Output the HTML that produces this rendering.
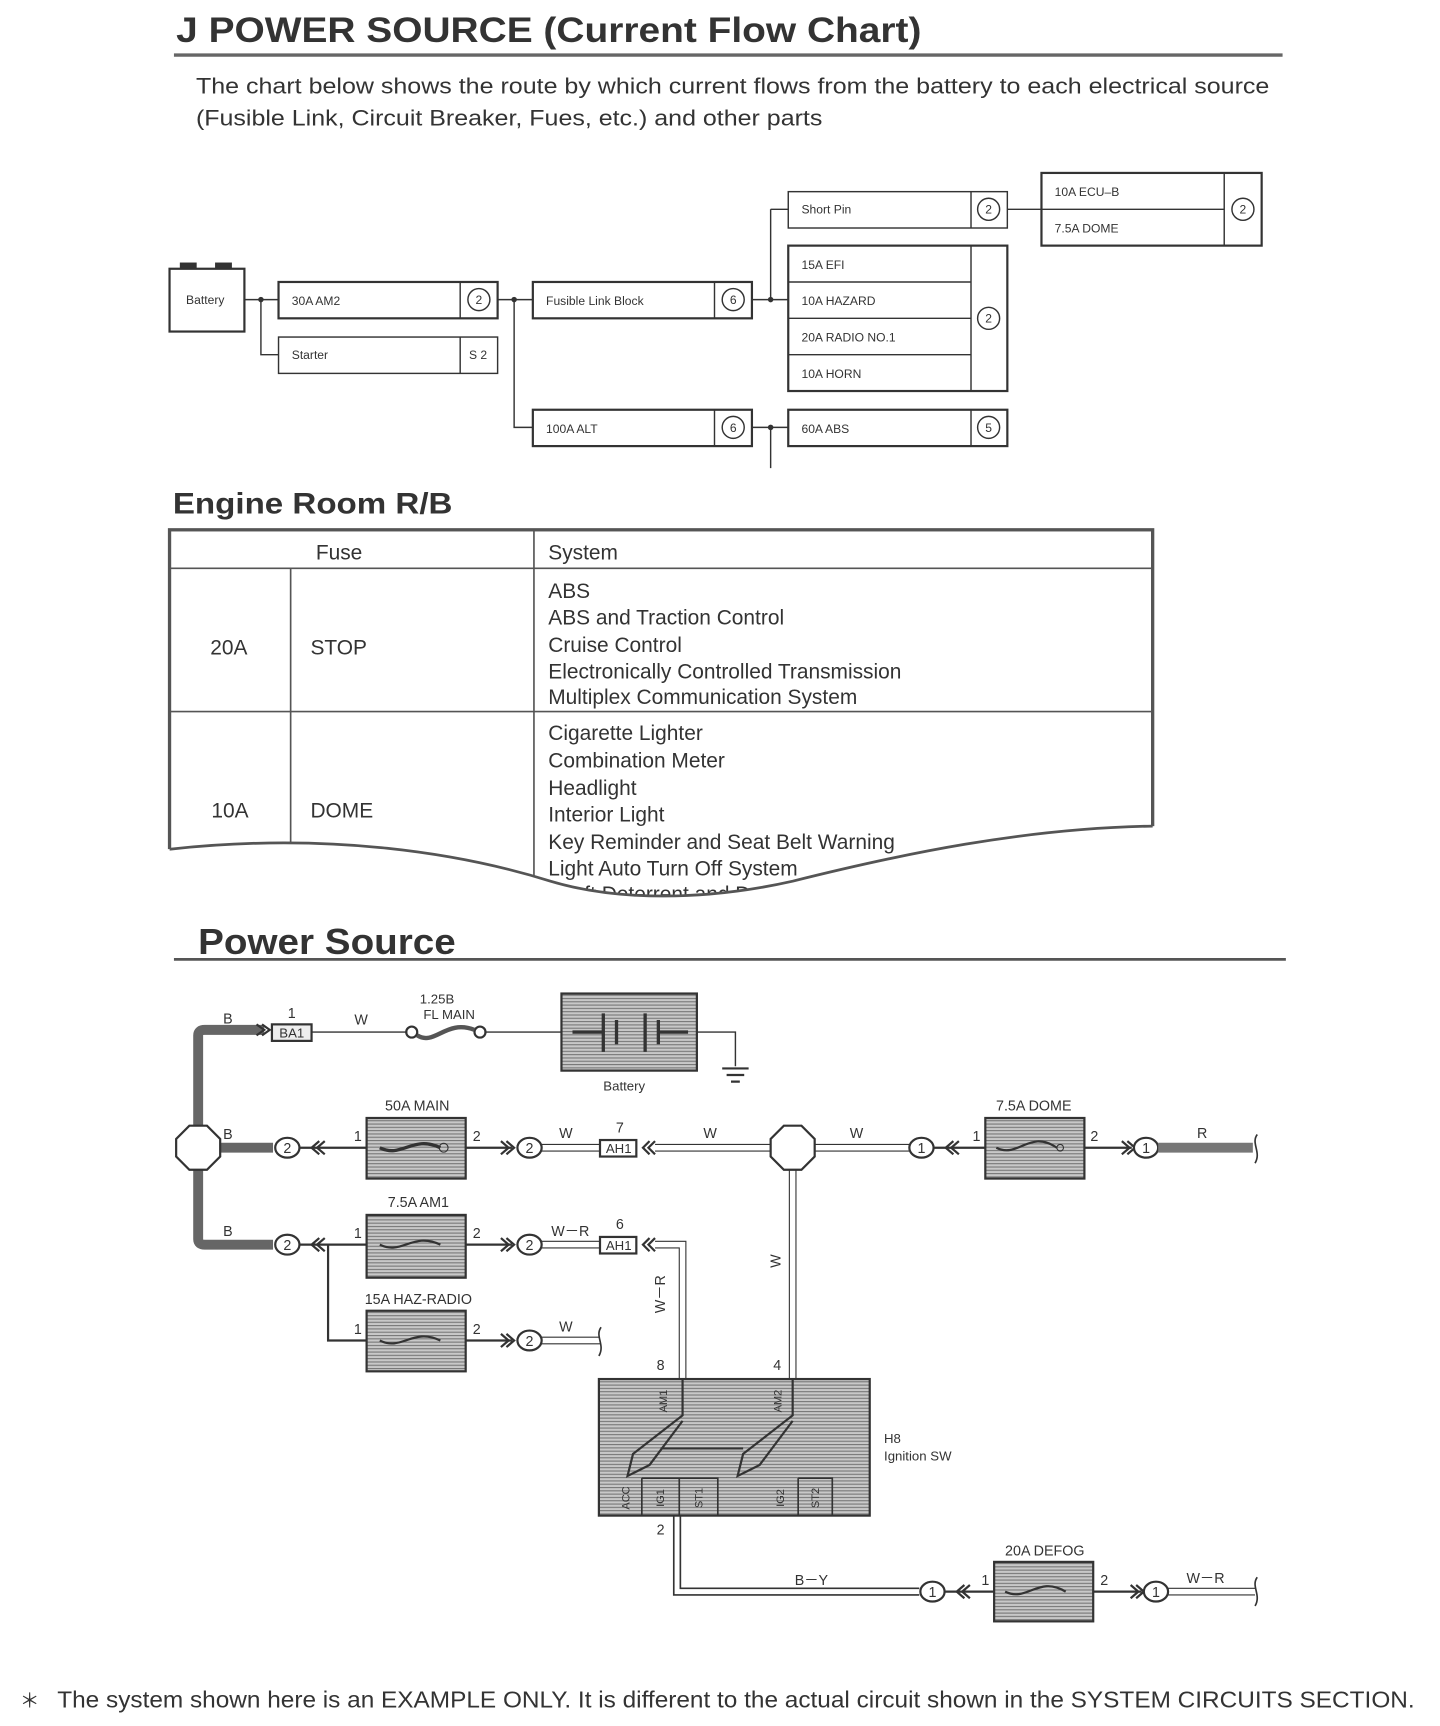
<!DOCTYPE html>
<html><head><meta charset="utf-8"><style>
html,body{margin:0;padding:0;background:#fff}
svg{display:block}
text{font-family:"Liberation Sans",sans-serif;fill:#333}
.s{font-size:11px}
.m{font-size:13px}
</style></head><body>
<svg width="1440" height="1726" viewBox="0 0 1308 1567" preserveAspectRatio="none" xmlns="http://www.w3.org/2000/svg">
<defs>
<pattern id="h" width="3" height="3" patternUnits="userSpaceOnUse"><rect width="3" height="3" fill="#c8c8c8"/><rect width="3" height="1" fill="#777"/></pattern>
</defs>
<!-- title -->
<text x="160" y="38" font-size="32" font-weight="bold" fill="#222" textLength="677" lengthAdjust="spacingAndGlyphs">J POWER SOURCE (Current Flow Chart)</text>
<line x1="158" y1="50" x2="1165" y2="50" stroke="#666" stroke-width="3"/>
<text x="178" y="85" font-size="20" textLength="975" lengthAdjust="spacingAndGlyphs">The chart below shows the route by which current flows from the battery to each electrical source</text>
<text x="178" y="114" font-size="20" textLength="569" lengthAdjust="spacingAndGlyphs">(Fusible Link, Circuit Breaker, Fues, etc.) and other parts</text>

<!-- flow chart -->
<g fill="none" stroke="#333" stroke-width="1.3">
<rect x="154" y="244" width="68" height="57" stroke-width="2"/>
<rect x="164" y="239" width="14" height="5" fill="#333"/><rect x="196" y="239" width="14" height="5" fill="#333"/>
<path d="M222 272H253M237 272V322H253M452 272H484M467 272V388H484M683 272H716M700 190V272M700 190H716M915 190H946M683 388H716M700 388V425"/>
<rect x="253" y="256" width="199" height="33" stroke-width="2"/><line x1="418" y1="256" x2="418" y2="289"/>
<rect x="253" y="306" width="199" height="33"/><line x1="418" y1="306" x2="418" y2="339"/>
<rect x="484" y="256" width="199" height="33" stroke-width="2"/><line x1="649" y1="256" x2="649" y2="289"/>
<rect x="484" y="372" width="199" height="33" stroke-width="2"/><line x1="649" y1="372" x2="649" y2="405"/>
<rect x="716" y="174" width="199" height="33"/><line x1="882" y1="174" x2="882" y2="207"/>
<rect x="946" y="157" width="200" height="66" stroke-width="2"/><line x1="1112" y1="157" x2="1112" y2="223"/><line x1="946" y1="190" x2="1112" y2="190"/>
<rect x="716" y="223" width="199" height="132" stroke-width="2"/><line x1="882" y1="223" x2="882" y2="355"/>
<path d="M716 256H882M716 289H882M716 322H882"/>
<rect x="716" y="372" width="199" height="33" stroke-width="2"/><line x1="882" y1="372" x2="882" y2="405"/>
<circle cx="435" cy="272" r="10"/><circle cx="666" cy="272" r="10"/><circle cx="666" cy="388" r="10"/>
<circle cx="898" cy="190" r="10"/><circle cx="1129" cy="190" r="10"/><circle cx="898" cy="289" r="10"/><circle cx="898" cy="388" r="10"/>
</g>
<g fill="#333"><circle cx="237" cy="272" r="2.5"/><circle cx="467" cy="272" r="2.5"/><circle cx="700" cy="272" r="2.5"/><circle cx="700" cy="388" r="2.5"/></g>
<g class="s">
<text x="169" y="276">Battery</text><text x="265" y="277">30A AM2</text><text x="265" y="326">Starter</text><text x="426" y="326">S 2</text>
<text x="496" y="277">Fusible Link Block</text><text x="496" y="393">100A ALT</text>
<text x="728" y="194">Short Pin</text><text x="958" y="178">10A ECU–B</text><text x="958" y="211">7.5A DOME</text>
<text x="728" y="244">15A EFI</text><text x="728" y="277">10A HAZARD</text><text x="728" y="310">20A RADIO NO.1</text><text x="728" y="343">10A HORN</text>
<text x="728" y="393">60A ABS</text>
</g>
<g class="s" text-anchor="middle"><text x="435" y="276">2</text><text x="666" y="276">6</text><text x="666" y="392">6</text><text x="898" y="194">2</text><text x="1129" y="194">2</text><text x="898" y="293">2</text><text x="898" y="392">5</text></g>

<!-- Engine room table -->
<text x="157" y="466" font-size="27" font-weight="bold" fill="#333" textLength="254" lengthAdjust="spacingAndGlyphs">Engine Room R/B</text>
<g fill="none" stroke="#555" stroke-width="1.5">
<rect x="154" y="481" width="893" height="340" stroke-width="3"/>
<path d="M154 516H1047M154 646H1047M264 516V800M485 481V800"/>
</g>
<g font-size="19">
<text x="308" y="508" text-anchor="middle">Fuse</text><text x="498" y="508">System</text>
<text x="191" y="594">20A</text><text x="282" y="594">STOP</text>
<text x="498" y="543">ABS</text><text x="498" y="567">ABS and Traction Control</text><text x="498" y="592">Cruise Control</text>
<text x="498" y="616">Electronically Controlled Transmission</text><text x="498" y="639">Multiplex Communication System</text>
<text x="192" y="742">10A</text><text x="282" y="742">DOME</text>
<text x="498" y="672">Cigarette Lighter</text><text x="498" y="697">Combination Meter</text><text x="498" y="722">Headlight</text>
<text x="498" y="746">Interior Light</text><text x="498" y="771">Key Reminder and Seat Belt Warning</text><text x="498" y="795">Light Auto Turn Off System</text>
<text x="498" y="818">Theft Deterrent and Door Lock</text>
</g>
<path d="M152 771 C300 755 420 775 500 800 C560 818 640 818 720 800 C820 775 930 752 1049 750 V850 H152Z" fill="#fff"/>
<path d="M154 771 C300 755 420 775 500 800 C560 818 640 818 720 800 C820 775 930 752 1047 750" fill="none" stroke="#555" stroke-width="2.5"/>

<!-- Power Source -->
<text x="180" y="866" font-size="33" font-weight="bold" fill="#333" textLength="234" lengthAdjust="spacingAndGlyphs">Power Source</text>
<line x1="158" y1="871" x2="1168" y2="871" stroke="#555" stroke-width="2.5"/>

<g fill="none" stroke="#333">
<path d="M180 1022V940Q180 935 186 935H240M180 1062V1125Q180 1130 186 1130H248M200 1042H248" stroke="#666" stroke-width="9"/>
<path d="M233 930L240 935L233 940M238 930L245 935L238 940" stroke-width="2"/>
<polygon points="172,1022 188,1022 200,1034 200,1050 188,1062 172,1062 160,1050 160,1034" fill="#fff" stroke-width="2"/>
<rect x="247" y="930" width="36" height="15" fill="#eee" stroke-width="2"/>
<path d="M283 937H370M440 937H510M633 937H668V968" stroke-width="1.3"/>
<circle cx="374" cy="937" r="5" stroke-width="2"/><circle cx="436" cy="937" r="5" stroke-width="2"/>
<path d="M379 940C395 950 405 925 431 935" stroke-width="4" stroke="#555"/>
<rect x="510" y="902" width="123" height="70" fill="url(#h)" stroke-width="2"/>
<path d="M548 920V955M560 926V948M586 920V955M598 926V948M520 937H548M598 937H625" stroke-width="3"/>
<path d="M656 970H680M660 976H676M664 982H672" stroke-width="2"/>
<ellipse cx="261" cy="1042" rx="11" ry="9" fill="#fff" stroke-width="2"/>
<path d="M290 1036L283 1042L290 1048M295 1036L288 1042L295 1048" stroke-width="2"/>
<path d="M272 1042H333M423 1042H465" stroke-width="2"/>
<rect x="333" y="1015" width="90" height="55" fill="url(#h)" stroke-width="2"/>
<path d="M345 1042C365 1052 375 1030 400 1042" stroke-width="3"/><circle cx="403" cy="1042" r="4"/>
<path d="M455 1036L462 1042L455 1048M460 1036L467 1042L460 1048" stroke-width="2"/>
<ellipse cx="481" cy="1042" rx="11" ry="9" fill="#fff" stroke-width="2"/>
<path d="M492 1039H545M492 1045H545M595 1039H702M595 1045H702M738 1039H826M738 1045H826" stroke-width="1"/>
<rect x="545" y="1035" width="33" height="15" fill="#fff" stroke-width="2"/>
<path d="M590 1036L584 1042L590 1048M595 1036L589 1042L595 1048" stroke-width="2"/>
<polygon points="712,1022 728,1022 740,1034 740,1050 728,1062 712,1062 700,1050 700,1034" fill="#fff" stroke-width="2"/>
<path d="M717 1062V1252M723 1062V1252" stroke-width="1"/>
<ellipse cx="837" cy="1042" rx="11" ry="9" fill="#fff" stroke-width="2"/>
<path d="M866 1036L859 1042L866 1048M871 1036L864 1042L871 1048" stroke-width="2"/>
<path d="M848 1042H895M985 1042H1028" stroke-width="2"/>
<rect x="895" y="1015" width="90" height="55" fill="url(#h)" stroke-width="2"/>
<path d="M905 1042C925 1052 935 1025 960 1042" stroke-width="2"/><circle cx="963" cy="1042" r="3"/>
<path d="M1019 1036L1026 1042L1019 1048M1024 1036L1031 1042L1024 1048" stroke-width="2"/>
<ellipse cx="1041" cy="1042" rx="11" ry="9" fill="#fff" stroke-width="2"/>
<path d="M1052 1042H1138" stroke="#777" stroke-width="9"/>
<path d="M1142 1030C1136 1038 1146 1046 1140 1056" stroke-width="1.5"/>
<ellipse cx="261" cy="1130" rx="11" ry="9" fill="#fff" stroke-width="2"/>
<path d="M290 1124L283 1130L290 1136M295 1124L288 1130L295 1136" stroke-width="2"/>
<path d="M272 1130H333M423 1130H465M298 1130V1217H333M423 1217H465" stroke-width="2"/>
<rect x="333" y="1103" width="90" height="57" fill="url(#h)" stroke-width="2"/>
<rect x="333" y="1190" width="90" height="55" fill="url(#h)" stroke-width="2"/>
<path d="M345 1130C365 1140 375 1118 400 1130M345 1217C365 1227 375 1205 400 1217" stroke-width="2"/>
<path d="M455 1124L462 1130L455 1136M460 1124L467 1130L460 1136M455 1211L462 1217L455 1223M460 1211L467 1217L460 1223" stroke-width="2"/>
<ellipse cx="481" cy="1130" rx="11" ry="9" fill="#fff" stroke-width="2"/>
<ellipse cx="481" cy="1217" rx="11" ry="9" fill="#fff" stroke-width="2"/>
<path d="M492 1127H545M492 1133H545M492 1214H545M492 1220H545M595 1127H623V1252M595 1133H617V1252" stroke-width="1"/>
<path d="M546 1205C540 1213 550 1221 544 1231" stroke-width="1.5"/>
<rect x="545" y="1123" width="33" height="15" fill="#fff" stroke-width="2"/>
<path d="M590 1124L584 1130L590 1136M595 1124L589 1130L595 1136" stroke-width="2"/>
<rect x="544" y="1252" width="246" height="124" fill="url(#h)" stroke-width="2"/>
<path d="M620 1252V1285L575 1320L570 1340L590 1330L620 1290M720 1252V1285L675 1320L670 1340L690 1330L720 1290M600 1315H675" stroke-width="2"/>
<path d="M583 1342V1376M583 1342H652V1376M617 1342V1376M725 1342V1376M725 1342H756V1376" stroke-width="1.5"/>
<path d="M612 1376V1448H835M618 1376V1442H835" stroke-width="1.5"/>
<ellipse cx="847" cy="1445" rx="11" ry="9" fill="#fff" stroke-width="2"/>
<path d="M876 1439L869 1445L876 1451M881 1439L874 1445L881 1451" stroke-width="2"/>
<path d="M858 1445H903M993 1445H1037" stroke-width="2"/>
<rect x="903" y="1418" width="90" height="54" fill="url(#h)" stroke-width="2"/>
<path d="M913 1445C933 1455 943 1430 968 1445" stroke-width="2"/>
<path d="M1027 1439L1034 1445L1027 1451M1032 1439L1039 1445L1032 1451" stroke-width="2"/>
<ellipse cx="1050" cy="1445" rx="11" ry="9" fill="#fff" stroke-width="2"/>
<path d="M1061 1442H1140M1061 1448H1140" stroke-width="1"/>
<path d="M1142 1432C1136 1440 1146 1448 1140 1458" stroke-width="1.5"/>
</g>
<g class="m" text-anchor="middle">
<text x="207" y="929">B</text><text x="265" y="942" font-size="12">BA1</text><text x="265" y="924">1</text><text x="328" y="930">W</text>
<text x="397" y="911" font-size="12">1.25B</text><text x="408" y="925" font-size="12">FL MAIN</text><text x="567" y="990" font-size="12">Battery</text>
<text x="207" y="1034">B</text><text x="261" y="1047">2</text><text x="379" y="1008">50A MAIN</text><text x="325" y="1036">1</text><text x="433" y="1036">2</text>
<text x="481" y="1047">2</text><text x="514" y="1033">W</text><text x="562" y="1047" font-size="12">AH1</text><text x="563" y="1028">7</text><text x="645" y="1033">W</text><text x="778" y="1033">W</text>
<text x="837" y="1047">1</text><text x="939" y="1008">7.5A DOME</text><text x="887" y="1036">1</text><text x="994" y="1036">2</text><text x="1041" y="1047">1</text><text x="1092" y="1033">R</text>
<text x="207" y="1122">B</text><text x="261" y="1135">2</text><text x="380" y="1096">7.5A AM1</text><text x="325" y="1124">1</text><text x="433" y="1124">2</text>
<text x="481" y="1135">2</text><text x="518" y="1122">W－R</text><text x="562" y="1135" font-size="12">AH1</text><text x="563" y="1116">6</text>
<text x="380" y="1184">15A HAZ-RADIO</text><text x="325" y="1211">1</text><text x="433" y="1211">2</text><text x="481" y="1222">2</text><text x="514" y="1209">W</text>
<text x="600" y="1244">8</text><text x="706" y="1244">4</text><text x="600" y="1393">2</text>
<text x="737" y="1439">B－Y</text><text x="847" y="1450">1</text><text x="949" y="1412">20A DEFOG</text><text x="895" y="1439">1</text><text x="1003" y="1439">2</text><text x="1050" y="1450">1</text><text x="1095" y="1437">W－R</text>
</g>
<text class="m" transform="translate(709,1145) rotate(-90)" text-anchor="middle">W</text>
<text class="m" transform="translate(604,1175) rotate(-90)" text-anchor="middle">W－R</text>
<g font-size="10" text-anchor="middle">
<text transform="translate(606,1272) rotate(-90)">AM1</text><text transform="translate(710,1272) rotate(-90)">AM2</text>
<text transform="translate(572,1360) rotate(-90)">ACC</text><text transform="translate(603,1360) rotate(-90)">IG1</text><text transform="translate(638,1360) rotate(-90)">ST1</text>
<text transform="translate(712,1360) rotate(-90)">IG2</text><text transform="translate(744,1360) rotate(-90)">ST2</text>
</g>
<text x="803" y="1310" font-size="12">H8</text><text x="803" y="1326" font-size="12">Ignition SW</text>

<text x="18" y="1550" font-size="18">＊</text>
<text x="52" y="1550" font-size="21" textLength="1233" lengthAdjust="spacingAndGlyphs">The system shown here is an EXAMPLE ONLY. It is different to the actual circuit shown in the SYSTEM CIRCUITS SECTION.</text>
</svg>
</body></html>
